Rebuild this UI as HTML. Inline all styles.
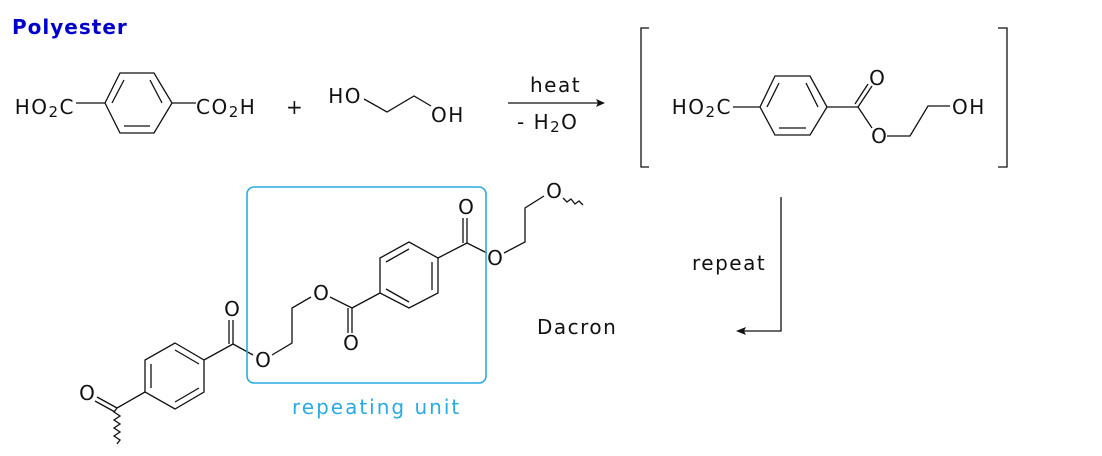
<!DOCTYPE html>
<html><head><meta charset="utf-8"><style>
html,body{margin:0;padding:0;background:#fff;width:1102px;height:456px;overflow:hidden}
svg{display:block}
text{font-family:"DejaVu Sans","Liberation Sans",sans-serif;fill:#111}
.m{font-size:20px;letter-spacing:1.5px}
.o{font-size:20px;text-anchor:middle}
</style></head><body>
<svg width="1102" height="456" viewBox="0 0 1102 456" xmlns="http://www.w3.org/2000/svg">
<g stroke="#111" stroke-width="1.3" fill="none">
<polygon points="105,103 120,73 154,73 172,103 154,133 120,133"/>
<line x1="124" y1="80" x2="112" y2="103"/><line x1="150" y1="80" x2="162" y2="103"/><line x1="124" y1="126" x2="150" y2="126"/>
<line x1="76" y1="103" x2="105" y2="103"/><line x1="172" y1="103" x2="196" y2="103"/>
<polyline points="364,99 387,112 414,96 431,106"/>
<line x1="508" y1="103" x2="598" y2="103"/>
<polyline points="649,28 641,28 641,167 649,167"/>
<polyline points="998,28 1007,28 1007,167 998,167"/>
<polygon points="760,107 775,76 810,76 827,107 810,135 775,135"/>
<line x1="779" y1="83" x2="767" y2="107"/><line x1="806" y1="83" x2="818" y2="107"/><line x1="779" y1="128" x2="806" y2="128"/>
<line x1="733" y1="107" x2="760" y2="107"/><line x1="827" y1="107" x2="858" y2="107"/>
<line x1="858" y1="107" x2="872" y2="86"/><line x1="855" y1="104" x2="868" y2="84"/>
<line x1="858" y1="107" x2="872" y2="128"/>
<polyline points="887,136 910,136 928,106 950,106"/>
<polyline points="781,197 781,331 744,331"/>
<polygon points="175,343 204,360 204,392 175,409 145,392 145,360"/>
<line x1="175" y1="350" x2="199" y2="364"/><line x1="199" y1="388" x2="175" y2="402"/><line x1="151" y1="364" x2="151" y2="388"/>
<line x1="204" y1="360" x2="233" y2="344"/>
<line x1="233" y1="344" x2="233" y2="320"/><line x1="229" y1="344" x2="229" y2="320"/>
<line x1="233" y1="344" x2="253" y2="355"/>
<line x1="145" y1="392" x2="117" y2="408"/>
<line x1="117" y1="408" x2="97" y2="397"/><line x1="115" y1="412" x2="95" y2="401"/>
<polyline points="117,408 114,412 120,416 114,420 120,424 114,428 120,432 114,436 120,440 117,444"/>
<polyline points="272,355 292,343 292,308 311,297"/>
<polygon points="380,258 409,242 438,258 438,293 409,308 380,293"/>
<line x1="386" y1="262" x2="409" y2="249"/><line x1="432" y1="262" x2="432" y2="290"/><line x1="386" y1="289" x2="409" y2="302"/>
<line x1="380" y1="293" x2="352" y2="308"/>
<line x1="352" y1="308" x2="330" y2="297"/>
<line x1="352" y1="308" x2="352" y2="333"/><line x1="348" y1="308" x2="348" y2="333"/>
<line x1="438" y1="258" x2="467" y2="243"/>
<line x1="467" y1="243" x2="467" y2="218"/><line x1="463" y1="243" x2="463" y2="218"/>
<line x1="467" y1="243" x2="487" y2="253"/>
<polyline points="504,253 525,242 525,208 544,196"/>
<polyline points="563,198 567,202 571,199 575,204 579,201 583,205"/>
</g>
<polygon points="605,103 596,99 598,103 596,107" fill="#111"/>
<polygon points="736,331 746,327 744,331 746,335" fill="#111"/>
<rect x="247" y="187" width="239" height="196" rx="7" fill="none" stroke="#29abe2" stroke-width="1.6"/>
<text x="12" y="34" font-size="20" font-weight="bold" letter-spacing="1" style="fill:#0000cc">Polyester</text>
<g class="m">
<text x="75" y="114" text-anchor="end">HO<tspan font-size="15" dy="3">2</tspan><tspan dy="-3">C</tspan></text>
<text x="196" y="114">CO<tspan font-size="15" dy="3">2</tspan><tspan dy="-3">H</tspan></text>
<text x="286" y="114">+</text>
<text x="362" y="103" text-anchor="end">HO</text>
<text x="431" y="122">OH</text>
<text x="530" y="92">heat</text>
<text x="517" y="129">- H<tspan font-size="15" dy="3">2</tspan><tspan dy="-3">O</tspan></text>
<text x="732" y="114" text-anchor="end">HO<tspan font-size="15" dy="3">2</tspan><tspan dy="-3">C</tspan></text>
<text x="952" y="114">OH</text>
<text x="692" y="270">repeat</text>
<text x="537" y="334">Dacron</text>
</g>
<g class="o">
<text x="877" y="85">O</text>
<text x="879" y="143">O</text>
<text x="232" y="316">O</text>
<text x="263" y="367">O</text>
<text x="87" y="400">O</text>
<text x="321" y="300">O</text>
<text x="351" y="350">O</text>
<text x="466" y="214">O</text>
<text x="495" y="265">O</text>
<text x="554" y="198">O</text>
</g>
<text x="292" y="414" font-size="20" letter-spacing="2" style="fill:#29abe2">repeating unit</text>
</svg>
</body></html>
